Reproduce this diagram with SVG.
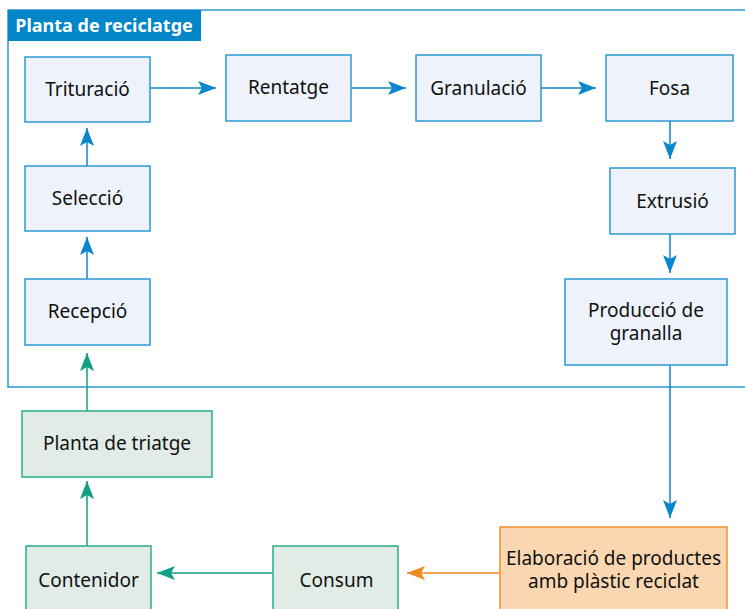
<svg xmlns="http://www.w3.org/2000/svg" width="745" height="609" viewBox="0 0 745 609">
<style>
text{font-family:"Noto Sans","Open Sans","Liberation Sans",sans-serif;font-size:19px;fill:#111;text-anchor:middle}
.b rect{fill:#eef2fa;stroke:#2b98d4;stroke-width:1.5}
.g rect{fill:#e2ece6;stroke:#2aab8f;stroke-width:1.5}
.o rect{fill:#fbd7b1;stroke:#f0932b;stroke-width:1.5}
.cb{stroke:#0a87cc;stroke-width:1.5;fill:none}
.cg{stroke:#11a083;stroke-width:1.5;fill:none}
.co{stroke:#ef8a1e;stroke-width:1.5;fill:none}
</style>
<defs>
<marker id="ab" viewBox="0 0 18 14" refX="18" refY="7" markerWidth="18" markerHeight="14" markerUnits="userSpaceOnUse" orient="auto"><path d="M0,0 L18,7 L0,14 L4,7 Z" fill="#0a87cc"/></marker>
<marker id="ag" viewBox="0 0 18 14" refX="18" refY="7" markerWidth="18" markerHeight="14" markerUnits="userSpaceOnUse" orient="auto"><path d="M0,0 L18,7 L0,14 L4,7 Z" fill="#11a083"/></marker>
<marker id="ao" viewBox="0 0 18 14" refX="18" refY="7" markerWidth="18" markerHeight="14" markerUnits="userSpaceOnUse" orient="auto"><path d="M0,0 L18,7 L0,14 L4,7 Z" fill="#ef8a1e"/></marker>
</defs>
<rect x="8" y="10" width="745" height="377" fill="#fff" stroke="#2b98d4" stroke-width="1.5"/>
<g id="title"><rect x="8" y="10" width="193" height="31" fill="#0086c9"/><text x="104" y="32" style="fill:#fff;font-weight:bold;font-size:18px">Planta de reciclatge</text></g>
<g id="connectors">
<line class="cb" x1="150" y1="88" x2="216" y2="88" marker-end="url(#ab)"/>
<line class="cb" x1="351" y1="88" x2="406" y2="88" marker-end="url(#ab)"/>
<line class="cb" x1="541" y1="88" x2="596" y2="88" marker-end="url(#ab)"/>
<line class="cb" x1="670" y1="121" x2="670" y2="159" marker-end="url(#ab)"/>
<line class="cb" x1="670" y1="234" x2="670" y2="273" marker-end="url(#ab)"/>
<line class="cb" x1="670" y1="365" x2="670" y2="518" marker-end="url(#ab)"/>
<line class="cb" x1="87" y1="279" x2="87" y2="237" marker-end="url(#ab)"/>
<line class="cb" x1="87" y1="166" x2="87" y2="128" marker-end="url(#ab)"/>
<line class="cg" x1="87" y1="411" x2="87" y2="353" marker-end="url(#ag)"/>
<line class="cg" x1="87" y1="546" x2="87" y2="481" marker-end="url(#ag)"/>
<line class="cg" x1="273" y1="573" x2="157" y2="573" marker-end="url(#ag)"/>
<line class="co" x1="500" y1="573" x2="407" y2="573" marker-end="url(#ao)"/>
</g>
<g id="trituracio" class="b"><rect x="25" y="57" width="125" height="65"/><text x="87.5" y="96">Trituració</text></g>
<g id="rentatge" class="b"><rect x="226" y="55" width="125" height="66"/><text x="288.5" y="94">Rentatge</text></g>
<g id="granulacio" class="b"><rect x="416" y="55" width="125" height="66"/><text x="478.5" y="95">Granulació</text></g>
<g id="fosa" class="b"><rect x="606" y="55" width="127" height="66"/><text x="669.5" y="95">Fosa</text></g>
<g id="extrusio" class="b"><rect x="610" y="168" width="125" height="66"/><text x="672.5" y="208">Extrusió</text></g>
<g id="produccio" class="b"><rect x="565" y="279" width="162" height="86"/><text x="646" y="317">Producció de</text><text x="646" y="340">granalla</text></g>
<g id="seleccio" class="b"><rect x="25" y="166" width="125" height="65"/><text x="87.5" y="205">Selecció</text></g>
<g id="recepcio" class="b"><rect x="25" y="279" width="125" height="66"/><text x="87.5" y="318">Recepció</text></g>
<g id="triatge" class="g"><rect x="22" y="411" width="190" height="66"/><text x="117" y="450">Planta de triatge</text></g>
<g id="contenidor" class="g"><rect x="26" y="546" width="125" height="70"/><text x="88.5" y="587">Contenidor</text></g>
<g id="consum" class="g"><rect x="273" y="546" width="125" height="70"/><text x="336.5" y="587">Consum</text></g>
<g id="elaboracio" class="o"><rect x="500" y="527" width="227" height="90"/><text x="613.5" y="565">Elaboració de productes</text><text x="613.5" y="588">amb plàstic reciclat</text></g>
</svg>
